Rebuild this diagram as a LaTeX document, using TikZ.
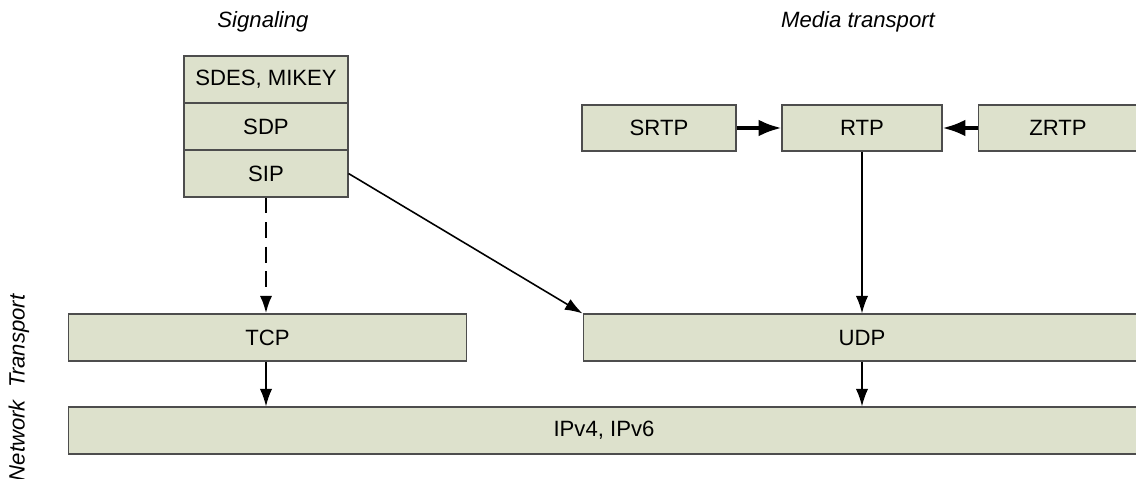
\documentclass[tikz,border=0pt]{standalone}
\usepackage{fontspec}
\setmainfont{Liberation Sans}
\usepackage{tikz}
\usetikzlibrary{arrows.meta}
\definecolor{layerfill}{HTML}{DDE1CC}
\definecolor{layerline}{HTML}{4D4D4D}
\tikzset{
layer/.style={draw=layerline, fill=layerfill, line width=0.6pt, inner sep=0pt, minimum height=0.94cm},
title/.style={font=\fontsize{12.6}{14}\selectfont\itshape},
link/.style={-{Latex[length=10pt,width=7pt]}, line width=0.9pt},
boldlink/.style={-{Latex[length=13pt,width=9.5pt]}, line width=2pt}
}

\begin{document}
\begin{tikzpicture}[x=0.02cm, y=-0.02cm, font=\fontsize{12.6}{14}\selectfont]
\clip (0,0) rectangle (1136,479);
\useasboundingbox (0,0) rectangle (1136,479);
% signaling stack
\foreach \y/\name/\txt in {79.5/sdes/{SDES, MIKEY}, 126.5/sdp/SDP, 173.5/sip/SIP}{
\node[layer, minimum width=3.28cm] (\name) at (266,\y) {\txt};
}
% media transport
\node[layer, minimum width=3.08cm, minimum height=0.92cm] (srtp) at (659,128) {SRTP};
\node[layer, minimum width=3.2cm, minimum height=0.92cm] (rtp) at (862,128) {RTP};
\node[layer, minimum width=3.2cm, minimum height=0.92cm] (zrtp) at (1058,128) {ZRTP};
% transport and network layers
\node[layer, minimum width=7.98cm] (tcp) at (267.5,337.5) {TCP};
\node[layer, minimum width=11.16cm] (udp) at (862,337.5) {UDP};
\node[layer, minimum width=21.44cm] (ip) at (604,430.5) {IPv4, IPv6};
% titles
\node[title] (signaling) at (263,22) {Signaling};
\node[title] (media) at (858,22) {Media transport};
\node[title, rotate=90] (nettrans) at (19,388) {Network~~Transport};
% arrows
\draw[link, dash pattern=on 9pt off 5pt, line width=1.6pt] (sip.south) -- (sip.south |- tcp.north);
\draw[link] (sip.east) -- (udp.north west);
\draw[link] (rtp.south) -- (rtp |- udp.north);
\draw[link] (tcp.south -| sip) -- (sip |- ip.north);
\draw[link] (udp.south -| rtp) -- (rtp |- ip.north);
\draw[boldlink] (srtp.east) -- (rtp.west);
\draw[boldlink] (zrtp.west) -- (rtp.east);
\end{tikzpicture}
\end{document}
